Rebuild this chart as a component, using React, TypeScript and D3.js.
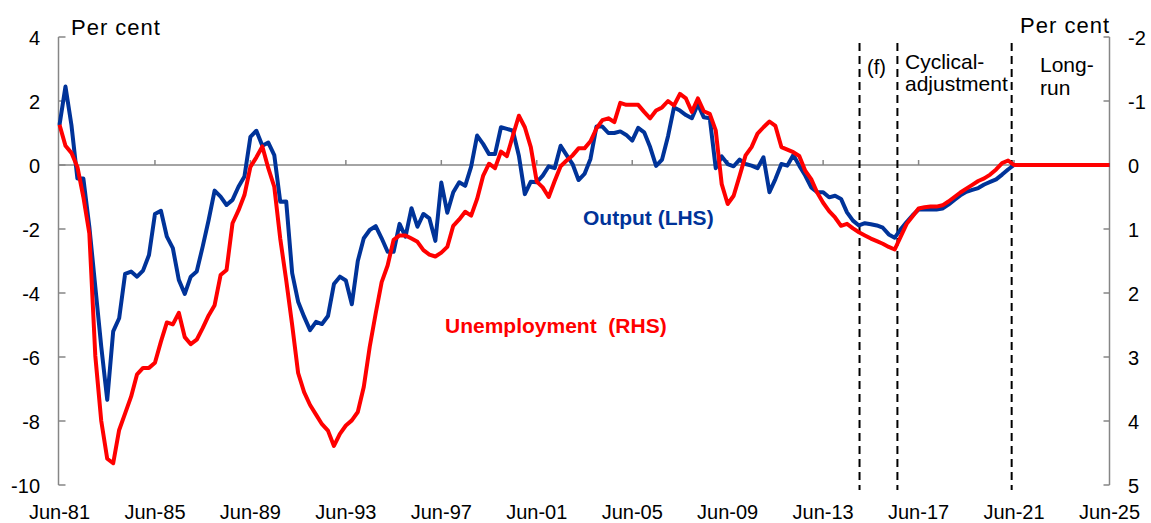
import React from 'react';
import * as d3 from 'd3';

// Quarterly gaps, Jun-81 .. Jun-25 (177 quarters)
// Output gap, per cent (left axis)
const outputGap: number[] = [
  1.25, 2.45, 1.25, -0.42, -0.42, -1.93, -3.8, -5.68, -7.34, -5.2,
  -4.79, -3.4, -3.33, -3.49, -3.3, -2.81, -1.53, -1.43, -2.24, -2.6,
  -3.59, -4.03, -3.49, -3.33, -2.55, -1.72, -0.8, -0.99, -1.25, -1.09,
  -0.68, -0.36, 0.88, 1.07, 0.6, 0.7, 0.31, -1.15, -1.14, -3.38,
  -4.27, -4.74, -5.16, -4.9, -4.97, -4.72, -3.72, -3.49, -3.61, -4.35,
  -3.0, -2.29, -2.03, -1.91, -2.29, -2.71, -2.71, -1.84, -2.24, -1.35,
  -1.93, -1.53, -1.67, -2.37, -0.55, -1.49, -0.85, -0.54, -0.65, -0.05,
  0.92, 0.66, 0.34, 0.34, 1.18, 1.13, 1.07, 0.29, -0.91, -0.52,
  -0.54, -0.33, -0.04, -0.1, 0.6, 0.31, 0.03, -0.47, -0.28, 0.19,
  1.2, 1.2, 1.0, 1.0, 1.05, 0.94, 0.76, 1.16, 1.02, 0.56,
  -0.03, 0.17, 0.9, 1.8, 1.7, 1.56, 1.46, 1.9, 1.49, 1.46,
  -0.1, 0.27, 0.03, -0.04, 0.17, 0.03, -0.02, -0.1, 0.24, -0.85,
  -0.44, 0.03, -0.02, 0.31, -0.02, -0.33, -0.7, -0.85, -0.85, -1.01,
  -0.96, -1.06, -1.48, -1.74, -1.89, -1.82, -1.85, -1.89, -1.96, -2.17,
  -2.27, -2.01, -1.78, -1.57, -1.39, -1.39, -1.39, -1.39, -1.36, -1.24,
  -1.09, -0.95, -0.84, -0.78, -0.72, -0.61, -0.53, -0.45, -0.3, -0.14,
  0, 0, 0, 0, 0, 0, 0, 0, 0, 0,
  0, 0, 0, 0, 0, 0, 0,
];

// Unemployment gap, per cent (right axis, inverted)
const unemploymentGap: number[] = [
  -0.63, -0.3, -0.19, 0.03, 0.5, 1.07, 2.98, 4.0, 4.59, 4.66,
  4.14, 3.88, 3.62, 3.27, 3.17, 3.17, 3.09, 2.76, 2.46, 2.49,
  2.31, 2.69, 2.8, 2.73, 2.55, 2.35, 2.19, 1.72, 1.64, 0.91,
  0.71, 0.47, 0.03, -0.12, -0.29, 0.05, 0.34, 1.15, 1.8, 2.5,
  3.25, 3.55, 3.75, 3.9, 4.05, 4.15, 4.39, 4.2, 4.07, 3.99,
  3.86, 3.47, 2.84, 2.32, 1.83, 1.57, 1.17, 1.1, 1.1, 1.15,
  1.2, 1.33, 1.4, 1.43, 1.37, 1.28, 0.95, 0.85, 0.73, 0.79,
  0.53, 0.17, -0.02, 0.05, -0.21, -0.14, -0.46, -0.77, -0.59, -0.28,
  0.26, 0.35, 0.5, 0.25, 0.02, -0.07, -0.15, -0.26, -0.26, -0.37,
  -0.57, -0.7, -0.73, -0.67, -0.97, -0.94, -0.94, -0.94, -0.83, -0.73,
  -0.85, -0.9, -1.0, -0.93, -1.11, -1.04, -0.83, -1.04, -0.84, -0.8,
  -0.54, 0.3, 0.61, 0.48, 0.17, -0.15, -0.28, -0.49, -0.59, -0.68,
  -0.61, -0.28, -0.24, -0.2, -0.14, 0.09, 0.22, 0.43, 0.59, 0.72,
  0.82, 0.95, 0.92, 0.99, 1.05, 1.1, 1.15, 1.19, 1.23, 1.28,
  1.32, 1.12, 0.92, 0.8, 0.68, 0.66, 0.65, 0.65, 0.63, 0.57,
  0.5, 0.43, 0.37, 0.31, 0.25, 0.21, 0.15, 0.07, -0.03, -0.07,
  0, 0, 0, 0, 0, 0, 0, 0, 0, 0,
  0, 0, 0, 0, 0, 0, 0,
];

const xTickLabels = [
  'Jun-81', 'Jun-85', 'Jun-89', 'Jun-93', 'Jun-97', 'Jun-01',
  'Jun-05', 'Jun-09', 'Jun-13', 'Jun-17', 'Jun-21', 'Jun-25',
];
const leftTicks = [4, 2, 0, -2, -4, -6, -8, -10];
const rightTicks = [-2, -1, 0, 1, 2, 3, 4, 5];
// phase boundaries, in quarters since Jun-81
const phaseBreaks = [134.1, 140.45, 159.6];

const W = 1151;
const H = 523;
const FONT = "Arial, 'Liberation Sans', sans-serif";
const BLUE = '#003399';
const RED = '#ff0000';
const GREY = '#868686';

const App: React.FC = () => {
  const x = d3.scaleLinear().domain([0, 176]).range([59.5, 1109.5]);
  const yL = d3.scaleLinear().domain([-10, 4]).range([485, 37]);
  const yR = d3.scaleLinear().domain([5, -2]).range([485, 37]);
  const axisL = 58.5;
  const axisR = 1109.5;

  const lineL = d3
    .line<number>()
    .x((_, i) => x(i))
    .y(d => yL(d));
  const lineR = d3
    .line<number>()
    .x((_, i) => x(i))
    .y(d => yR(d));

  return (
    <svg
      width={W}
      height={H}
      style={{ position: 'absolute', left: 0, top: 0, background: '#fff' }}
      fontFamily={FONT}
    >
      {/* zero line and x ticks */}
      <line x1={axisL} x2={axisR} y1={yL(0)} y2={yL(0)} stroke={GREY} strokeWidth={1.5} />
      {xTickLabels.map((lab, i) => (
        <g key={lab}>
          {i > 0 && i < xTickLabels.length - 1 && (
            <line
              x1={x(i * 16)}
              x2={x(i * 16)}
              y1={yL(0)}
              y2={yL(0) - 5}
              stroke={GREY}
              strokeWidth={1.5}
            />
          )}
          <text x={x(i * 16)} y={519} fontSize={20} textAnchor="middle" fill="#000">
            {lab}
          </text>
        </g>
      ))}

      {/* left axis */}
      <line x1={axisL} x2={axisL} y1={yL(4)} y2={yL(-10)} stroke={GREY} strokeWidth={1.5} />
      {leftTicks.map(v => (
        <g key={v}>
          <line x1={axisL} x2={axisL + 7} y1={yL(v)} y2={yL(v)} stroke={GREY} strokeWidth={1.5} />
          <text x={40} y={yL(v) + 7.5} fontSize={20} textAnchor="end">
            {v}
          </text>
        </g>
      ))}

      {/* right axis */}
      <line x1={axisR} x2={axisR} y1={yR(-2)} y2={yR(5)} stroke={GREY} strokeWidth={1.5} />
      {rightTicks.map(v => (
        <g key={v}>
          <line x1={axisR - 6} x2={axisR} y1={yR(v)} y2={yR(v)} stroke={GREY} strokeWidth={1.5} />
          <text x={1128} y={yR(v) + 7.5} fontSize={20} textAnchor="start">
            {v}
          </text>
        </g>
      ))}

      <text x={71} y={35} fontSize={22} letterSpacing={1}>
        Per cent
      </text>
      <text x={1110} y={33} fontSize={22} letterSpacing={1} textAnchor="end">
        Per cent
      </text>

      {/* phase boundaries */}
      {phaseBreaks.map(q => (
        <line
          key={q}
          x1={x(q)}
          x2={x(q)}
          y1={43}
          y2={490}
          stroke="#000"
          strokeWidth={2}
          strokeDasharray="8,5"
        />
      ))}
      <text x={867} y={74} fontSize={20}>
        (f)
      </text>
      <text x={905} y={69} fontSize={21}>
        Cyclical-
      </text>
      <text x={905} y={91} fontSize={21}>
        adjustment
      </text>
      <text x={1040} y={72} fontSize={21}>
        Long-
      </text>
      <text x={1040} y={95} fontSize={21}>
        run
      </text>

      {/* series */}
      <path
        d={lineL(outputGap) ?? ''}
        fill="none"
        stroke={BLUE}
        strokeWidth={4}
        strokeLinejoin="round"
      />
      <path
        d={lineR(unemploymentGap) ?? ''}
        fill="none"
        stroke={RED}
        strokeWidth={4}
        strokeLinejoin="round"
      />

      <text x={583} y={225} fontSize={21} fontWeight="bold" fill={BLUE}>
        Output (LHS)
      </text>
      <text
        x={445}
        y={333}
        fontSize={21}
        fontWeight="bold"
        fill={RED}
        style={{ whiteSpace: 'pre' }}
      >
        {'Unemployment  (RHS)'}
      </text>
    </svg>
  );
};

export default App;
